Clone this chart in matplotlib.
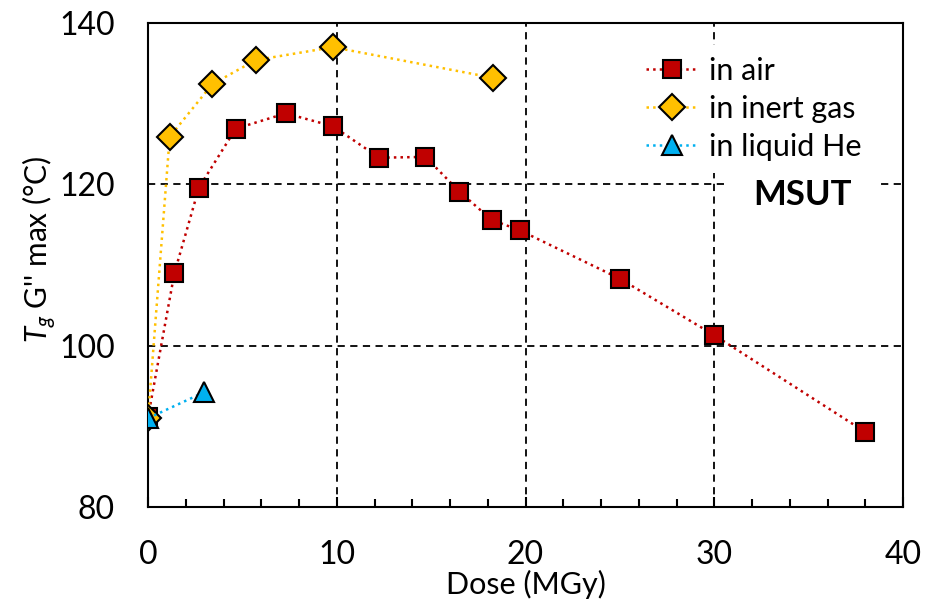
import numpy as np
import matplotlib.pyplot as plt
from matplotlib.ticker import MultipleLocator

plt.rcParams['font.family'] = ['Lato', 'DejaVu Sans']
plt.rcParams['mathtext.fontset'] = 'custom'
plt.rcParams['mathtext.it'] = 'Lato:italic'
plt.rcParams['mathtext.rm'] = 'Lato'

# dose (MGy) and Tg (degC)
air_dose = [0, 1.4, 2.7, 4.65, 7.3, 9.8, 12.25, 14.7, 16.5, 18.2, 19.7, 25.0, 30.0, 38.0]
air_tg = [91.1, 109.0, 119.6, 126.9, 128.8, 127.2, 123.3, 123.4, 119.1, 115.6, 114.3, 108.3, 101.3, 89.3]
gas_dose = [0, 1.15, 3.4, 5.7, 9.8, 18.3]
gas_tg = [91.0, 125.9, 132.4, 135.4, 137.0, 133.2]
he_dose = [0, 2.95]
he_tg = [91.0, 94.2]

fig = plt.figure(figsize=(9.3, 6.02), dpi=100)
ax = fig.add_axes([148/930, 95/602, 755/930, 484/602])

ax.plot(air_dose, air_tg, ls=':', lw=1.8, color='#C00000', marker='s', ms=13,
        mfc='#C00000', mec='black', mew=1.5, label='in air', zorder=3)
ax.plot(gas_dose, gas_tg, ls=':', lw=1.8, color='#FFC000', marker='D', ms=13,
        mfc='#FFC000', mec='black', mew=1.5, label='in inert gas', zorder=3)
ax.plot(he_dose, he_tg, ls=':', lw=1.8, color='#00B0F0', marker='^', ms=14,
        mfc='#00B0F0', mec='black', mew=1.5, label='in liquid He', zorder=4)

ax.set_xlim(0, 40)
ax.set_ylim(80, 140)
ax.xaxis.set_major_locator(MultipleLocator(10))
ax.xaxis.set_minor_locator(MultipleLocator(2))
ax.yaxis.set_major_locator(MultipleLocator(20))
ax.tick_params(axis='x', which='both', direction='in', width=1.5, labelsize=23, pad=24)
ax.tick_params(axis='x', which='major', length=7)
ax.tick_params(axis='x', which='minor', length=6)
ax.tick_params(axis='y', which='both', length=0, labelsize=23, pad=24)
for s in ax.spines.values():
    s.set_linewidth(1.5)

ax.grid(True, color='black', ls=(0, (4, 3)), lw=1.3)
ax.set_axisbelow(True)

ax.set_xlabel('Dose (MGy)', fontsize=22, labelpad=0)
ax.set_ylabel("$T_g$ G'' max (°C)", fontsize=21.5)
ax.yaxis.set_label_coords(-0.118, 0.533)

ax.text(34.7, 118.7, 'MSUT', fontsize=25, fontweight='bold', ha='center', va='center',
        bbox=dict(facecolor='white', edgecolor='none', boxstyle='square,pad=0.8'), zorder=5)

leg = ax.legend(loc='upper left', bbox_to_anchor=(0.623, 0.987), fontsize=22,
                frameon=True, edgecolor='none', facecolor='white', framealpha=1,
                handlelength=1.7, handletextpad=0.35, labelspacing=0.33, borderpad=0.4)

fig.savefig('out.png', dpi=100)
